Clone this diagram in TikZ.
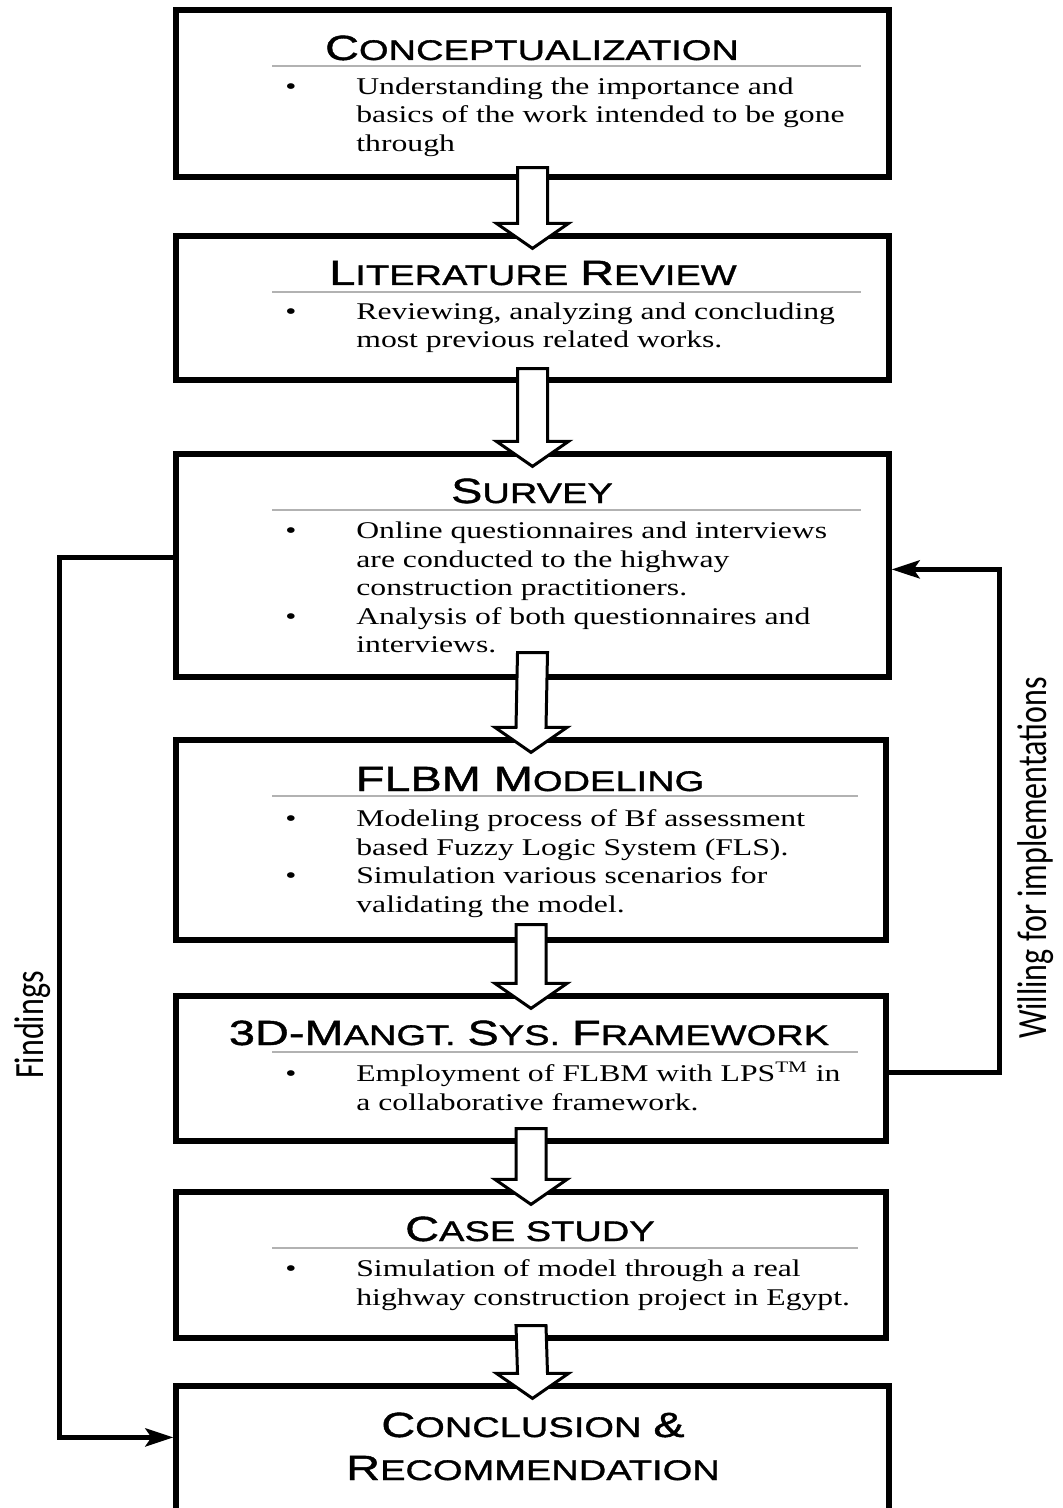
\documentclass[tikz,border=0pt]{standalone}
\usepackage{fontspec}
\setmainfont{Liberation Serif}
\newfontfamily\bodyfont{Liberation Serif}[FakeStretch=1.32]
\newfontfamily\headfont{Liberation Sans}[FakeStretch=1.34,FakeBold=1.2]
\newfontfamily\sidefont{Carlito}
\usetikzlibrary{calc,fit,arrows.meta}

% small-caps style headings: full capitals and reduced capitals
\newcommand\hbig[1]{{\fontsize{17.5}{17.5}\selectfont #1}}
\newcommand\hsmall[1]{{\fontsize{14.2}{14.2}\selectfont #1}}
% bullet hanging to the left of an item's first line
\newcommand\itm{\llap{\textbullet\hspace{30pt}}}
\newcommand\firstline{\rule{0pt}{10pt}}

% hollow block arrow from one stage box down into the next
% #1 source node, #2 target node, #3 how far the shaft starts inside the source
\newcommand\blockarrow[3]{%
  \path ($(#1.south)+(0,-#3)$) coordinate (ba-s)
        ($(#2.north)+(0,15)$) coordinate (ba-t);
  \draw[barrow] ($(ba-s)+(-15,0)$) -- ($(ba-s)+(15,0)$)
     -- ($(ba-t)+(15,-25)$) -- ($(ba-t)+(36,-25)$) -- (ba-t)
     -- ($(ba-t)+(-36,-25)$) -- ($(ba-t)+(-15,-25)$) -- cycle;}

\tikzset{
  x=0.5pt, y=-0.5pt,
  stagebox/.style={draw, line width=2.6pt, inner sep=0pt},
  heading/.style={anchor=base, inner sep=0pt, font=\headfont\fontsize{16}{16}\selectfont},
  bodytxt/.style={anchor=north west, inner sep=0pt, align=left,
    font=\bodyfont\fontsize{12}{14.3}\selectfont},
  seprule/.style={draw=black!30, line width=1pt},
  barrow/.style={draw, fill=white, line width=1.5pt, line join=miter},
  conn/.style={draw, line width=2.4pt, -{Stealth[length=14pt,width=9pt,inset=3pt]}},
  sidelbl/.style={rotate=90, inner sep=0pt, font=\sidefont\fontsize{16}{16}\selectfont},
}

\begin{document}
\begin{tikzpicture}
\useasboundingbox (0,0) rectangle (1063,1508);
\fill[white] (0,0) rectangle (1063,1508);
\clip (0,0) rectangle (1063,1508);

% stage boxes
\node[stagebox, fit={(176,10) (889,177)}] (b1) {};
\node[stagebox, fit={(176,236) (889,380)}] (b2) {};
\node[stagebox, fit={(176,454) (889,677)}] (b3) {};
\node[stagebox, fit={(176,740) (886,940)}] (b4) {};
\node[stagebox, fit={(176,996) (886,1141)}] (b5) {};
\node[stagebox, fit={(176,1192) (886,1338)}] (b6) {};
\node[stagebox, fit={(176,1386) (889,1530)}] (b7) {};

% headings
\node[heading] (h1) at (532,60) {\hbig{C}\hsmall{ONCEPTUALIZATION}};
\node[heading] (h2) at (533,285) {\hbig{L}\hsmall{ITERATURE} \hbig{R}\hsmall{EVIEW}};
\node[heading] (h3) at (532,503) {\hbig{S}\hsmall{URVEY}};
\node[heading] (h4) at (530,791) {\hbig{FLBM M}\hsmall{ODELING}};
\node[heading] (h5) at (529,1045) {\hbig{3D-M}\hsmall{ANGT.} \hbig{S}\hsmall{YS.} \hbig{F}\hsmall{RAMEWORK}};
\node[heading] (h6) at (530,1241) {\hbig{C}\hsmall{ASE STUDY}};
\node[heading] (h7a) at (533,1437) {\hbig{C}\hsmall{ONCLUSION} \hbig{\&}};
\node[heading] (h7b) at (533,1480) {\hbig{R}\hsmall{ECOMMENDATION}};

% rules under the headings
\foreach \b in {b1,b2,b3,b4,b5,b6}
  \draw[seprule] ($(\b.north west)+(99,59)$) -- ($(\b.north east)+(-31,59)$);

% bullet points
\node[bodytxt] (t1) at (356,74) {\firstline\itm Understanding the importance and\\
  basics of the work intended to be gone\\through};
\node[bodytxt] (t2) at (356,299) {\firstline\itm Reviewing, analyzing and concluding\\
  most previous related works.};
\node[bodytxt] (t3) at (356,518) {\firstline\itm Online questionnaires and interviews\\
  are conducted to the highway\\construction practitioners.\\
  \itm Analysis of both questionnaires and\\interviews.};
\node[bodytxt] (t4) at (356,806) {\firstline\itm Modeling process of Bf assessment\\
  based Fuzzy Logic System (FLS).\\
  \itm Simulation various scenarios for\\validating the model.};
\node[bodytxt] (t5) at (356,1061) {\firstline\itm Employment of FLBM with LPS\textsuperscript{TM} in\\
  a collaborative framework.};
\node[bodytxt] (t6) at (356,1256) {\firstline\itm Simulation of model through a real\\
  highway construction project in Egypt.};

% flow between stages
\blockarrow{b1}{b2}{12}
\blockarrow{b2}{b3}{14}
\blockarrow{b3}{b4}{27}
\blockarrow{b4}{b5}{18}
\blockarrow{b5}{b6}{15}
\blockarrow{b6}{b7}{15}

% feedback loops
\coordinate (fout) at ($(b3.north west)+(0,106)$);
\coordinate (fin) at ($(b7.north west)+(0,54)$);
\draw[conn] (fout) -- ++(-114,0) |- (fin);
\coordinate (wout) at ($(b5.north east)+(0,79)$);
\coordinate (win) at ($(b3.north east)+(0,118)$);
\draw[conn] (wout) -- ++(111,0) |- (win);

\node[sidelbl] (lf) at (33,1025) {\scalebox{1}[1.3]{Findings}};
\node[sidelbl] (lw) at (1036,858) {\scalebox{1}[1.3]{Willing for implementations}};
\end{tikzpicture}
\end{document}
